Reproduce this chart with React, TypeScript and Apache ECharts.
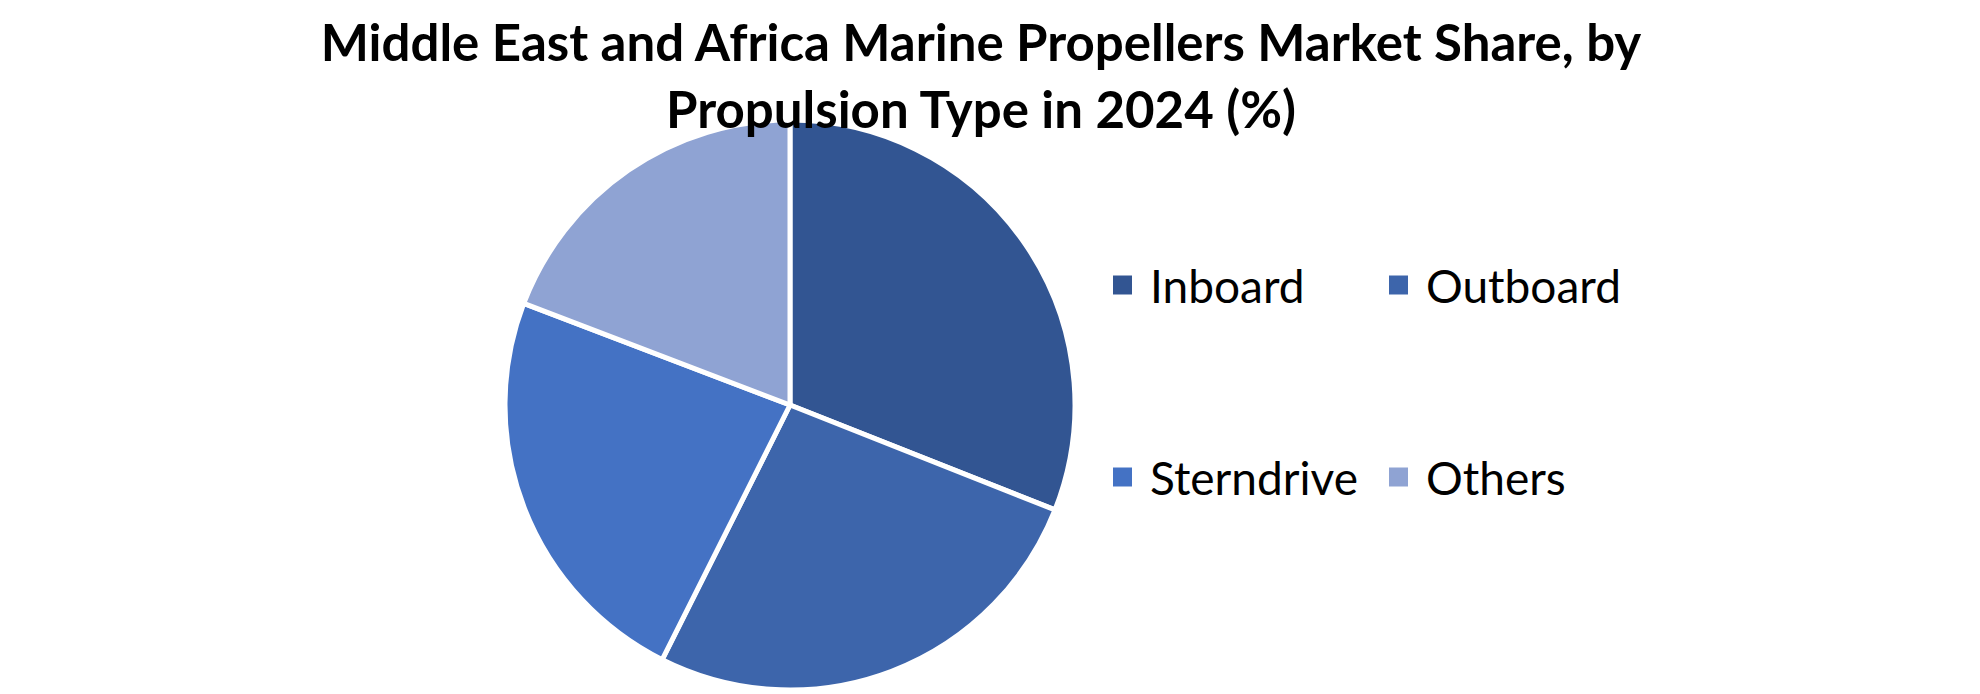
import React, { useEffect, useRef } from 'react';
import * as echarts from 'echarts';

// Market share by propulsion type, 2024 (%)
const categories = ['Inboard', 'Outboard', 'Sterndrive', 'Others'];
const shares = [31.0, 26.4, 23.4, 19.2];
const sliceColors = ['#325592', '#3D65AB', '#4472C4', '#8FA3D3'];

const titleText = 'Middle East and Africa Marine Propellers Market Share, by\nPropulsion Type in 2024 (%)';

// legend grid: two columns, two rows
const legendCols = [1111, 1387];
const legendRows = [262, 454];

export default function App() {
  const chartRef = useRef<HTMLDivElement>(null);

  useEffect(() => {
    if (!chartRef.current) return;
    document.body.style.margin = '0';

    const chart = echarts.init(chartRef.current, null, { renderer: 'svg' });

    const legends = categories.map((name, i) => ({
      data: [name],
      left: legendCols[i % 2],
      top: legendRows[Math.floor(i / 2)],
      padding: 0,
      orient: 'horizontal' as const,
      icon: 'rect',
      itemWidth: 21,
      itemHeight: 21,
      selectedMode: false,
      textStyle: {
        fontFamily: 'Lato',
        fontSize: 46,
        color: '#000',
        padding: [0, 0, 0, 12]
      }
    }));

    const option: echarts.EChartsOption = {
      animation: false,
      backgroundColor: '#fff',
      title: {
        text: titleText,
        left: 976,
        top: 3,
        textAlign: 'center',
        textStyle: {
          fontFamily: 'Lato',
          fontWeight: 'bold',
          fontSize: 51,
          lineHeight: 67,
          color: '#000'
        }
      },
      legend: legends,
      series: [
        {
          name: 'Share',
          type: 'pie',
          center: [790, 405],
          radius: 285,
          startAngle: 90,
          clockwise: true,
          label: { show: false },
          labelLine: { show: false },
          emphasis: { disabled: true },
          itemStyle: {
            borderColor: '#fff',
            borderWidth: 5
          },
          data: categories.map((name, i) => ({
            name,
            value: shares[i],
            itemStyle: { color: sliceColors[i] }
          }))
        }
      ]
    };

    chart.setOption(option);

    return () => {
      chart.dispose();
    };
  }, []);

  return <div ref={chartRef} style={{ width: '1980px', height: '694px' }} />;
}
